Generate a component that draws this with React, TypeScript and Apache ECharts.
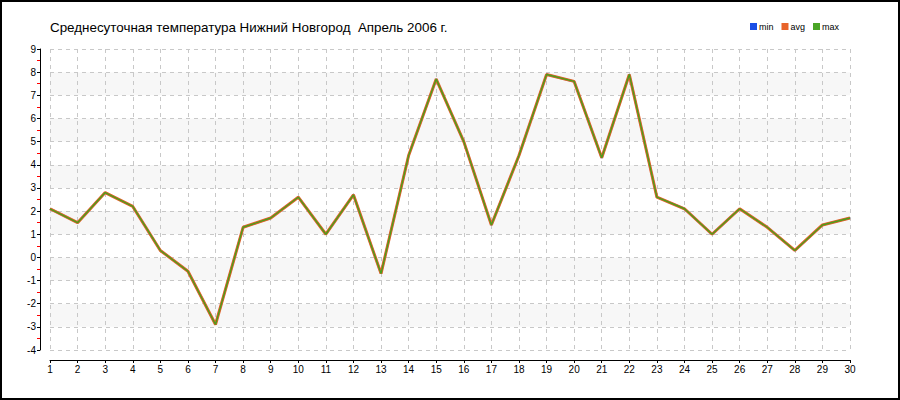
import React, { useEffect, useRef } from "react";
import * as echarts from "echarts";

const days = Array.from({ length: 30 }, (_, i) => String(i + 1));
const minTemps = [2.1, 1.5, 2.8, 2.2, 0.3, -0.6, -2.9, 1.3, 1.7, 2.6, 1.0, 2.7, -0.7, 4.4, 7.7, 5.0, 1.4, 4.4, 7.9, 7.6, 4.3, 7.9, 2.6, 2.1, 1.0, 2.1, 1.3, 0.3, 1.4, 1.7];
const avgTemps = [2.1, 1.5, 2.8, 2.2, 0.3, -0.6, -2.9, 1.3, 1.7, 2.6, 1.0, 2.7, -0.7, 4.4, 7.7, 5.0, 1.4, 4.4, 7.9, 7.6, 4.3, 7.9, 2.6, 2.1, 1.0, 2.1, 1.3, 0.3, 1.4, 1.7];
const maxTemps = [2.1, 1.5, 2.8, 2.2, 0.3, -0.6, -2.9, 1.3, 1.7, 2.6, 1.0, 2.7, -0.7, 4.4, 7.7, 5.0, 1.4, 4.4, 7.9, 7.6, 4.3, 7.9, 2.6, 2.1, 1.0, 2.1, 1.3, 0.3, 1.4, 1.7];
const seriesNames = ["min", "avg", "max"];
const titleText = "Среднесуточная температура Нижний Новгород  Апрель 2006 г.";

const FONT = "Liberation Sans, Arial, sans-serif";

export default function App() {
  const ref = useRef<HTMLDivElement>(null);
  useEffect(() => {
    document.body.style.margin = "0";
    if (!ref.current) return;
    const chart = echarts.init(ref.current, null, { renderer: "svg" });
    chart.setOption({
      animation: false,
      backgroundColor: "#ffffff",
      title: {
        text: titleText,
        left: 50,
        top: 21,
        padding: 0,
        textStyle: { fontFamily: FONT, fontSize: 13.4, fontWeight: "normal", color: "#000" },
      },
      legend: {
        data: seriesNames,
        right: 56,
        top: 17,
        itemWidth: 7,
        itemHeight: 7,
        itemGap: 8,
        icon: "rect",
        textStyle: { fontFamily: FONT, fontSize: 9, color: "#000", padding: [0, 0, 0, -3] },
      },
      grid: { left: 50, right: 50, top: 49, bottom: 50, containLabel: false },
      xAxis: {
        type: "category",
        data: days,
        boundaryGap: false,
        offset: 10,
        axisLine: { show: true, onZero: false, lineStyle: { color: "#000", width: 1 } },
        axisTick: { show: true, length: 3, interval: 0, lineStyle: { color: "#000" } },
        axisLabel: { interval: 0, margin: 4, fontFamily: FONT, fontSize: 10, color: "#000" },
        splitLine: { show: true, interval: 0, lineStyle: { color: "#c8c8c8", type: [4, 4], width: 1 } },
      },
      yAxis: {
        type: "value",
        min: -4,
        max: 9,
        interval: 1,
        offset: 10,
        axisLine: { show: true, onZero: false, lineStyle: { color: "#000", width: 1 } },
        axisTick: { show: true, length: 3, lineStyle: { color: "#000" } },
        minorTick: { show: true, splitNumber: 2, length: 3, lineStyle: { color: "#ff0000" } },
        axisLabel: { margin: 4, fontFamily: FONT, fontSize: 10, color: "#000" },
        splitLine: { show: true, lineStyle: { color: "#c8c8c8", type: [4, 4], width: 1 } },
        splitArea: { show: true, areaStyle: { color: ["#ffffff", "#f7f7f7"] } },
      },
      series: [
        { name: seriesNames[0], type: "line", data: minTemps, symbol: "none", color: "#1a4ee6", lineStyle: { width: 2, color: "#1a4ee6" } },
        { name: seriesNames[1], type: "line", data: avgTemps, symbol: "none", color: "#e8632a", lineStyle: { width: 3, color: "#e8632a" } },
        { name: seriesNames[2], type: "line", data: maxTemps, symbol: "none", color: "#4aa526", lineStyle: { width: 1.4, color: "#4a9e1c" } },
      ],
      graphic: [
        {
          type: "rect",
          shape: { x: 1, y: 1, width: 898, height: 398 },
          style: { fill: "none", stroke: "#000", lineWidth: 2 },
          silent: true,
        },
      ],
    });
    return () => chart.dispose();
  }, []);
  return <div ref={ref} style={{ width: 900, height: 400 }} />;
}
